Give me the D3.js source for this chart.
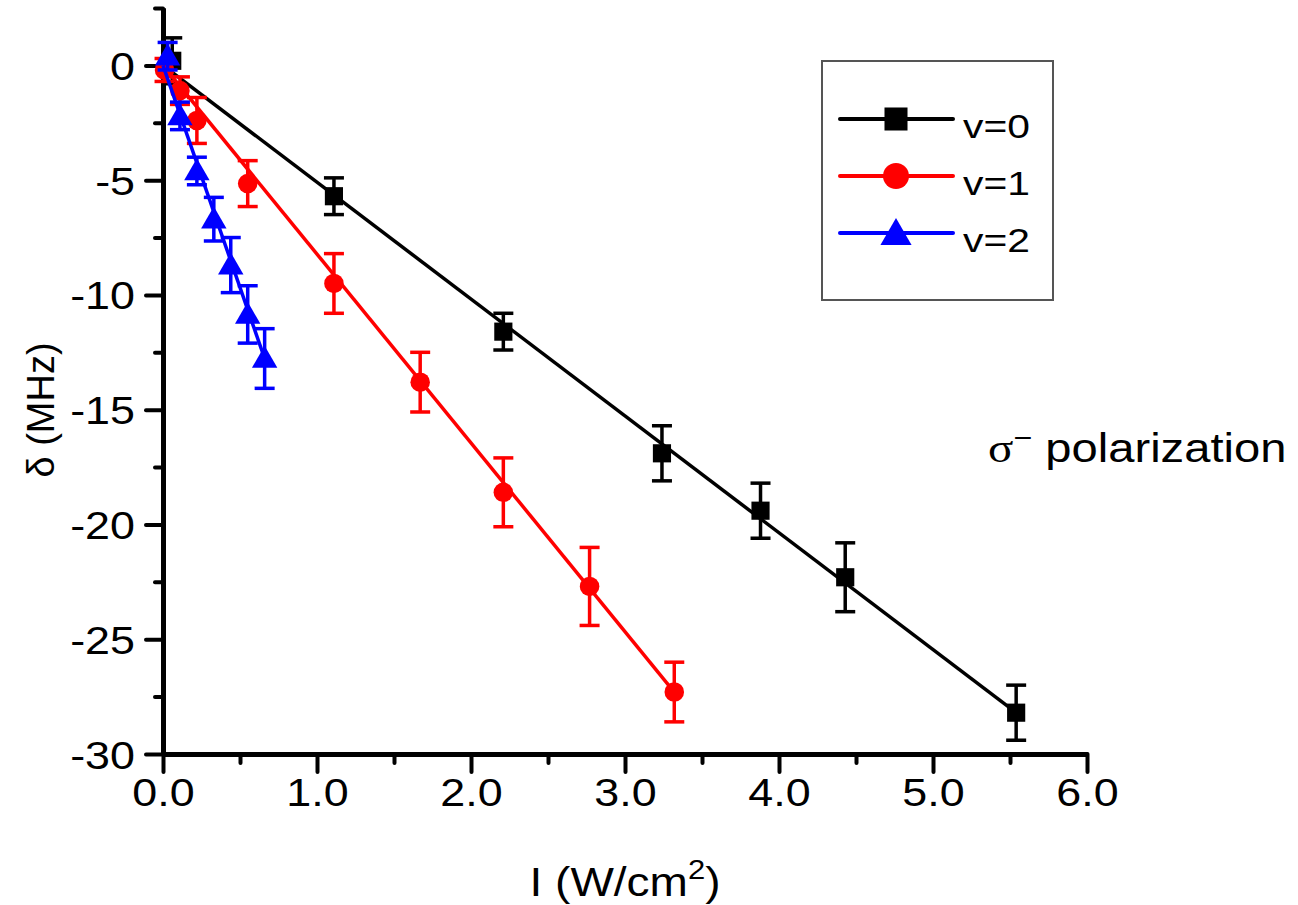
<!DOCTYPE html>
<html>
<head>
<meta charset="utf-8">
<script src="https://cdn.jsdelivr.net/npm/d3@7"></script>
<style>
  body { margin: 0; background: #fff; }
  text { font-family: "Liberation Sans", Arial, sans-serif; }
</style>
</head>
<body>
<div class="chart"></div>
<script>
// data
const seriesNames = ["v=0", "v=1", "v=2"];
const seriesColors = ["#000000", "#ff0000", "#0000ff"];

const intensityV0 = [0.06, 1.11, 2.21, 3.24, 3.88, 4.43, 5.54];
const shiftV0 = [0.2, -5.7, -11.6, -16.9, -19.4, -22.3, -28.2];
const errV0 = [1.0, 0.8, 0.8, 1.2, 1.2, 1.5, 1.2];

const intensityV1 = [0.01, 0.11, 0.22, 0.55, 1.11, 1.67, 2.21, 2.77, 3.32];
const shiftV1 = [-0.2, -1.1, -2.4, -5.15, -9.5, -13.8, -18.6, -22.7, -27.3];
const errV1 = [0.5, 0.6, 1.0, 1.0, 1.3, 1.3, 1.5, 1.7, 1.3];

const intensityV2 = [0.03, 0.11, 0.22, 0.33, 0.44, 0.55, 0.66];
const shiftV2 = [0.4, -2.2, -4.6, -6.7, -8.7, -10.85, -12.77];
const errV2 = [0.6, 0.6, 0.6, 0.95, 1.2, 1.25, 1.3];

// straight fit lines, from origin to end point
const fitEndX = [5.54, 3.32, 0.66];
const fitEndY = [-28.2, -27.3, -12.77];

const xTicks = [0, 1, 2, 3, 4, 5, 6];
const xMinorTicks = [0.5, 1.5, 2.5, 3.5, 4.5, 5.5];
const yTicks = [-30, -25, -20, -15, -10, -5, 0];
const yMinorTicks = [-27.5, -22.5, -17.5, -12.5, -7.5, -2.5, 2.5];

const svgWidth = 1298, svgHeight = 905;
const margin = { top: 8, left: 163, right: 211, bottom: 151 };
const width = svgWidth - margin.left - margin.right;
const height = svgHeight - margin.top - margin.bottom;
const stretch = 1.15;

const svg = d3.select(".chart").append("svg")
    .attr("width", svgWidth)
    .attr("height", svgHeight);

const chartGroup = svg.append("g")
    .attr("transform", `translate(${margin.left}, ${margin.top})`);

const x = d3.scaleLinear().domain([0, 6]).range([0, width]);
const y = d3.scaleLinear().domain([-30, 2.5]).range([height, 0]);

// axes
const xAxis = d3.axisBottom(x).tickValues(xTicks).tickFormat(d3.format(".1f"))
    .tickSize(18).tickSizeOuter(0).tickPadding(10);
const xMinor = d3.axisBottom(x).tickValues(xMinorTicks).tickFormat("")
    .tickSize(9).tickSizeOuter(0);
const yAxis = d3.axisLeft(y).tickValues(yTicks).tickFormat(d => d)
    .tickSize(17).tickSizeOuter(0).tickPadding(10);
const yMinor = d3.axisLeft(y).tickValues(yMinorTicks).tickFormat("")
    .tickSize(8).tickSizeOuter(0);

function styleAxis(g) {
    g.select(".domain").attr("stroke", "#000").attr("stroke-width", 5);
    g.selectAll(".tick line").attr("stroke", "#000").attr("stroke-width", 4)
        .attr("stroke-linecap", "round");
    g.selectAll(".tick text").attr("fill", "#000").attr("font-size", 39)
        .attr("font-family", "Liberation Sans, Arial, sans-serif");
}

const gx = chartGroup.append("g").attr("transform", `translate(0, ${height})`).call(xAxis).call(styleAxis);
gx.selectAll(".tick text").attr("dy", "0.78em").attr("y", 22).attr("transform", `scale(${stretch},1)`);
chartGroup.append("g").attr("transform", `translate(0, ${height})`).call(xMinor).call(styleAxis);

const gy = chartGroup.append("g").call(yAxis).call(styleAxis);
gy.selectAll(".tick text").attr("x", -28 / stretch).attr("dy", "0.36em").attr("transform", `scale(${stretch},1)`);
chartGroup.append("g").call(yMinor).call(styleAxis);

// series
const allSeries = [
    { xs: intensityV0, ys: shiftV0, es: errV0 },
    { xs: intensityV1, ys: shiftV1, es: errV1 },
    { xs: intensityV2, ys: shiftV2, es: errV2 }
];

const symbols = [d3.symbolSquare, d3.symbolCircle, d3.symbolTriangle];
const plotSizes = [330, 300, 280];
const legendSizes = [530, 530, 420];

allSeries.forEach(function(s, i) {
    const color = seriesColors[i];
    const pts = s.xs.map((v, j) => ({ x: v, y: s.ys[j], e: s.es[j] }));

    chartGroup.append("line")
        .attr("x1", x(0)).attr("y1", y(0))
        .attr("x2", x(fitEndX[i])).attr("y2", y(fitEndY[i]))
        .attr("stroke", color).attr("stroke-width", 3.5);

    const eb = chartGroup.append("g").attr("stroke", color).attr("stroke-width", 3.5);
    eb.selectAll(".bar").data(pts).enter().append("line")
        .attr("x1", d => x(d.x)).attr("x2", d => x(d.x))
        .attr("y1", d => y(d.y + d.e)).attr("y2", d => y(d.y - d.e));
    eb.selectAll(".capTop").data(pts).enter().append("line")
        .attr("x1", d => x(d.x) - 10).attr("x2", d => x(d.x) + 10)
        .attr("y1", d => y(d.y + d.e)).attr("y2", d => y(d.y + d.e));
    eb.selectAll(".capBot").data(pts).enter().append("line")
        .attr("x1", d => x(d.x) - 10).attr("x2", d => x(d.x) + 10)
        .attr("y1", d => y(d.y - d.e)).attr("y2", d => y(d.y - d.e));

    chartGroup.append("g").selectAll("path").data(pts).enter().append("path")
        .attr("d", d3.symbol().type(symbols[i]).size(plotSizes[i]))
        .attr("transform", d => `translate(${x(d.x)}, ${y(d.y) + (i === 2 ? 2 : 0)})`)
        .attr("fill", color);
});

// legend
svg.append("rect")
    .attr("x", 822).attr("y", 61).attr("width", 231).attr("height", 239)
    .attr("fill", "none").attr("stroke", "#555").attr("stroke-width", 2);

const legendRows = [119, 176, 233];
seriesNames.forEach(function(name, i) {
    const ly = legendRows[i];
    svg.append("line")
        .attr("x1", 840).attr("x2", 953).attr("y1", ly).attr("y2", ly)
        .attr("stroke", seriesColors[i]).attr("stroke-width", 4).attr("stroke-linecap", "round");
    svg.append("path")
        .attr("d", d3.symbol().type(symbols[i]).size(legendSizes[i]))
        .attr("transform", `translate(896, ${ly + (i === 2 ? 3 : 0)})`)
        .attr("fill", seriesColors[i]);
    svg.append("text")
        .attr("transform", `translate(963, ${ly + 19}) scale(1.2,1)`)
        .attr("font-size", 34)
        .attr("fill", "#000")
        .text(name);
});

// axis labels
const xl = svg.append("text")
    .attr("transform", `translate(625, 896) scale(${stretch},1)`)
    .attr("text-anchor", "middle")
    .attr("font-size", 40);
xl.append("tspan").text("I (W/cm");
xl.append("tspan").attr("font-size", 27).attr("dy", -17).text("2");
xl.append("tspan").attr("dy", 17).text(")");

svg.append("text")
    .attr("transform", "translate(54, 410) rotate(-90)")
    .attr("text-anchor", "middle")
    .attr("font-size", 38)
    .text("δ (MHz)");

// annotation
const ann = svg.append("text")
    .attr("transform", `translate(988, 462) scale(${stretch},1)`)
    .attr("font-size", 41);
ann.append("tspan").attr("font-family", "Liberation Serif, Times New Roman, serif").text("σ");
ann.append("tspan").attr("font-size", 28).attr("dy", -15).text("−");
ann.append("tspan").attr("dy", 15).text(" polarization");
</script>
</body>
</html>
